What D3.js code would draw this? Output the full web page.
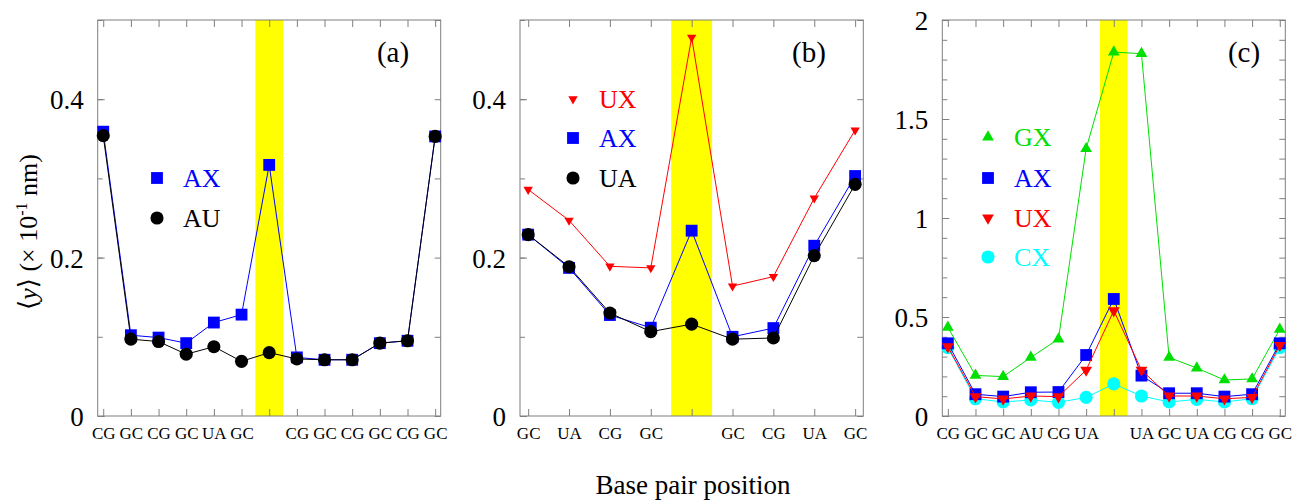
<!DOCTYPE html>
<html>
<head>
<meta charset="utf-8">
<script src="https://cdn.jsdelivr.net/npm/d3@7"></script>
<style>
  body { margin: 0; background: #fff; }
  svg { font-family: "Liberation Serif", "DejaVu Serif", serif; }
</style>
</head>
<body>
<svg width="1292" height="501"></svg>
<script>
// ---- data ----
var labelsA = ["CG","GC","CG","GC","UA","GC","","CG","GC","CG","GC","CG","GC"];
var axA = [0.359,0.102,0.099,0.092,0.118,0.128,0.317,0.074,0.071,0.071,0.092,0.095,0.353];
var auA = [0.354,0.097,0.094,0.078,0.0875,0.069,0.080,0.072,0.071,0.071,0.092,0.095,0.353];

var labelsB = ["GC","UA","CG","GC","","GC","CG","UA","GC"];
var uxB = [0.286,0.247,0.189,0.187,0.478,0.164,0.176,0.275,0.361];
var axB = [0.229,0.187,0.1275,0.1115,0.234,0.100,0.111,0.215,0.303];
var uaB = [0.229,0.1885,0.130,0.1065,0.116,0.097,0.0985,0.2025,0.2925];

var labelsC = ["CG","GC","GC","AU","CG","UA","","UA","GC","UA","CG","CG","GC"];
var gxC = [0.448,0.205,0.199,0.296,0.389,1.350,1.838,1.830,0.296,0.242,0.182,0.187,0.438];
var axC = [0.367,0.110,0.098,0.120,0.121,0.308,0.591,0.204,0.115,0.115,0.098,0.110,0.367];
var uxC = [0.350,0.098,0.086,0.101,0.098,0.232,0.532,0.232,0.101,0.101,0.087,0.094,0.357];
var cxC = [0.345,0.087,0.071,0.081,0.069,0.094,0.162,0.101,0.071,0.084,0.071,0.087,0.345];

var yTicksAB = [0, 0.2, 0.4];
var yTicksC = [0, 0.5, 1, 1.5, 2];

var svg = d3.select("svg");
var top_ = 20, bottom = 416;

var panels = [
  { left: 97.7, right: 440.7, labels: labelsA, ymax: 0.5, yticks: yTicksAB, minor: 0.1,
    mark: 6, tag: "(a)", tagX: 393, legX: 157, legY: [178, 218],
    series: [
      { name: "AX", values: axA, color: "#0000ff", shape: "square" },
      { name: "AU", values: auA, color: "#000000", shape: "circle" } ] },
  { left: 520, right: 863.3, labels: labelsB, ymax: 0.5, yticks: yTicksAB, minor: 0.1,
    mark: 4, tag: "(b)", tagX: 809, legX: 573, legY: [99, 138, 178], small: true,
    series: [
      { name: "UX", values: uxB, color: "#ff0000", shape: "down" },
      { name: "AX", values: axB, color: "#0000ff", shape: "square" },
      { name: "UA", values: uaB, color: "#000000", shape: "circle" } ] },
  { left: 942.3, right: 1285.3, labels: labelsC, ymax: 2, yticks: yTicksC, minor: 0.1,
    mark: 6, tag: "(c)", tagX: 1244, legX: 988, legY: [137, 178, 218, 257],
    series: [
      { name: "GX", values: gxC, color: "#00e000", shape: "up" },
      { name: "AX", values: axC, color: "#0000ff", shape: "square" },
      { name: "UX", values: uxC, color: "#ff0000", shape: "down" },
      { name: "CX", values: cxC, color: "#00ffff", shape: "circle" } ] }
];

// draw order inside each panel (back to front)
var drawOrder = [[0, 1], [0, 1, 2], [3, 0, 1, 2]];

function symbolPath(shape, small) {
  if (shape === "square") return d3.symbol(d3.symbolSquare, 140)();
  if (shape === "circle") return d3.symbol(d3.symbolCircle, 135)();
  return d3.symbol(d3.symbolTriangle, small ? 38 : 60)();
}
function symbolTransform(shape, x, y) {
  return "translate(" + x + "," + y + ")" + (shape === "down" ? " rotate(180)" : "");
}

panels.forEach(function(p, pi) {
  var n = p.labels.length;
  var x = d3.scaleLinear().domain([-0.2, n - 1 + 0.2]).range([p.left, p.right]);
  var y = d3.scaleLinear().domain([0, p.ymax]).range([bottom, top_]);
  var g = svg.append("g");

  // highlighted position
  g.append("rect")
    .attr("x", x(p.mark - 0.5)).attr("y", top_)
    .attr("width", x(p.mark + 0.5) - x(p.mark - 0.5)).attr("height", bottom - top_)
    .attr("fill", "#ffff00");

  // frame
  g.append("rect")
    .attr("x", p.left).attr("y", top_)
    .attr("width", p.right - p.left).attr("height", bottom - top_)
    .attr("fill", "none").attr("stroke", "#7f7f7f").attr("stroke-width", 1);

  var idx = d3.range(n);
  var minorVals = d3.range(0, p.ymax + 1e-9, p.minor);

  // x ticks bottom (labels) and top
  var xb = g.append("g").attr("transform", "translate(0," + bottom + ")")
    .call(d3.axisBottom(x).tickValues(idx).tickSize(-7).tickPadding(11)
      .tickFormat(function(i) { return p.labels[i]; }));
  var xt = g.append("g").attr("transform", "translate(0," + top_ + ")")
    .call(d3.axisTop(x).tickValues(idx).tickSize(-7).tickFormat(""));

  // y ticks left (labels), right
  var yl = g.append("g").attr("transform", "translate(" + p.left + ",0)")
    .call(d3.axisLeft(y).tickValues(p.yticks).tickSize(-7).tickPadding(14)
      .tickFormat(d3.format("")));
  var ylm = g.append("g").attr("transform", "translate(" + p.left + ",0)")
    .call(d3.axisLeft(y).tickValues(minorVals).tickSize(-5).tickFormat(""));
  var yr = g.append("g").attr("transform", "translate(" + p.right + ",0)")
    .call(d3.axisRight(y).tickValues(minorVals).tickSize(-6).tickFormat(""));

  [xb, xt, yl, ylm, yr].forEach(function(a) {
    a.attr("font-family", null);
    a.select(".domain").remove();
    a.selectAll(".tick line").attr("stroke", "#7f7f7f");
  });
  xb.selectAll("text").attr("font-size", 17).attr("fill", "#000")
    .attr("font-family", "Liberation Serif");
  yl.selectAll("text").attr("font-size", 27).attr("fill", "#000")
    .attr("font-family", "Liberation Serif").attr("dy", "0.36em");

  // series lines and markers
  drawOrder[pi].forEach(function(si) {
    var s = p.series[si];
    var line = d3.line().x(function(d, i) { return x(i); }).y(function(d) { return y(d); });
    g.append("path").attr("d", line(s.values))
      .attr("fill", "none").attr("stroke", s.color).attr("stroke-width", 1);
    g.append("g").selectAll("path").data(s.values).enter().append("path")
      .attr("d", symbolPath(s.shape, p.small))
      .attr("transform", function(d, i) { return symbolTransform(s.shape, x(i), y(d)); })
      .attr("fill", s.color);
  });

  // legend
  p.series.forEach(function(s, k) {
    g.append("path").attr("d", symbolPath(s.shape, p.small))
      .attr("transform", symbolTransform(s.shape, p.legX, p.legY[k]))
      .attr("fill", s.color);
    g.append("text").attr("x", p.legX + 26).attr("y", p.legY[k])
      .attr("dy", "0.35em").attr("font-size", 26).attr("fill", s.color)
      .text(s.name);
  });

  // panel tag
  g.append("text").attr("x", p.tagX).attr("y", 52).attr("dy", "0.35em")
    .attr("text-anchor", "middle").attr("font-size", 29).text(p.tag);
});

// axis titles
svg.append("text").attr("x", 693).attr("y", 494)
  .attr("text-anchor", "middle").attr("font-size", 27).text("Base pair position");

var yt = svg.append("text").attr("transform", "translate(37,232) rotate(-90)")
  .attr("text-anchor", "middle").attr("font-size", 26);
yt.append("tspan").text("\u27E8");
yt.append("tspan").attr("font-style", "italic").text("y");
yt.append("tspan").text("\u27E9 (\u00D7 10");
yt.append("tspan").attr("font-size", 16).attr("dy", -10).text("-1");
yt.append("tspan").attr("dy", 10).text(" nm)");
</script>
</body>
</html>
